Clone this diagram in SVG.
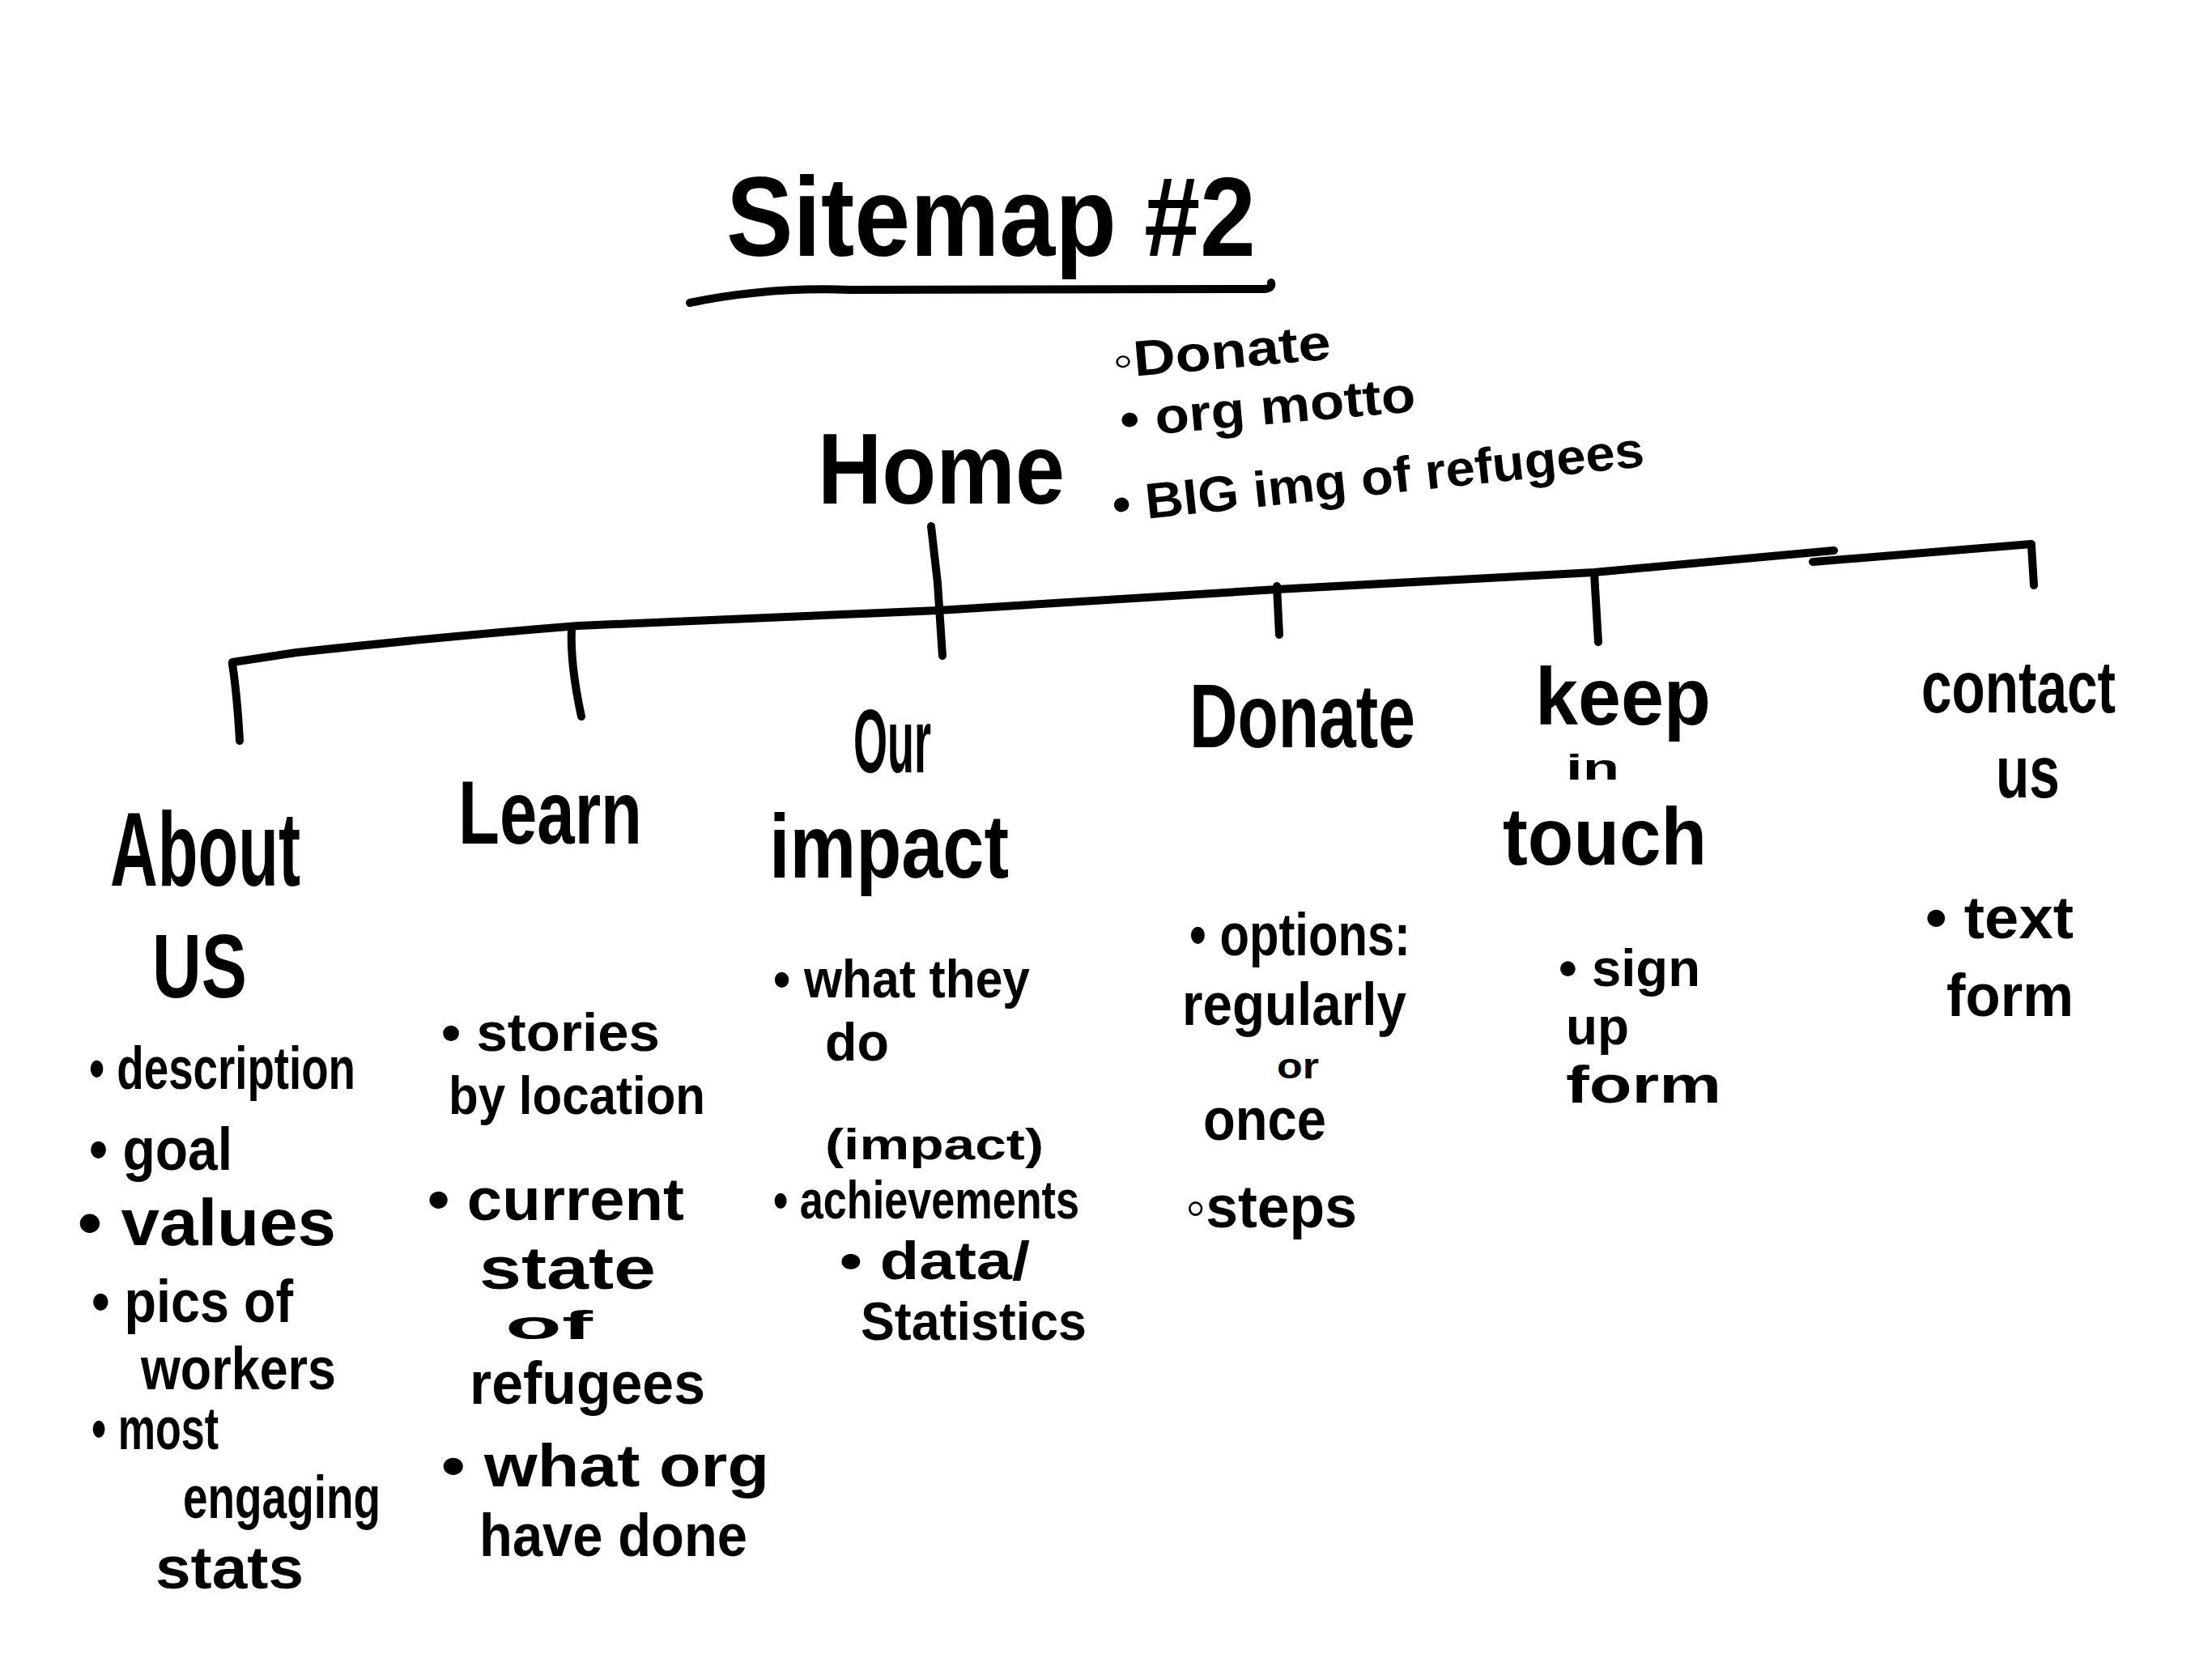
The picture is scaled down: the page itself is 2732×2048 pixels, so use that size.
<svg xmlns="http://www.w3.org/2000/svg" width="2732" height="2048" viewBox="0 0 2732 2048">
<style>
text{font-family:"Liberation Sans","DejaVu Sans",sans-serif;fill:#000;font-weight:700}
.t{font-size:140px}
.h{font-size:125px}
.n{font-size:112px}
.b{font-size:74px}
.m{font-size:66px}
.s{font-size:62px}
.l{fill:none;stroke:#000;stroke-width:10;stroke-linecap:round;stroke-linejoin:round}
</style>
<rect width="2732" height="2048" fill="#fff"/>
<g id="title">
<text class="t" x="897" y="316" textLength="654" lengthAdjust="spacingAndGlyphs">Sitemap #2</text>
<path class="l" d="M852 374 Q950 354 1050 358 L1562 357 Q1572 356 1570 349"/>
</g>
<g id="home">
<text class="h" x="1010" y="622" textLength="305" lengthAdjust="spacingAndGlyphs">Home</text>
<g transform="rotate(-5 1376 467)">
<text class="s" x="1376" y="467" textLength="270" lengthAdjust="spacingAndGlyphs">◦Donate</text>
</g>
<g transform="rotate(-5 1385 540)">
<text class="s" x="1385" y="540" textLength="366" lengthAdjust="spacingAndGlyphs">• org motto</text>
</g>
<g transform="rotate(-6 1376 645)">
<text class="s" x="1376" y="645" textLength="660" lengthAdjust="spacingAndGlyphs">• BIG img of refugees</text>
</g>
</g>
<g id="connectors">
<path class="l" d="M1150 650 L1158 720 L1164 810"/>
<path class="l" d="M287 818 L366 806 Q550 786 714 773 L1159 754 L1577 728 L1969 707 L2265 680"/>
<path class="l" d="M2239 694 L2509 672"/>
<path class="l" d="M287 820 Q293 860 296 915"/>
<path class="l" d="M706 776 Q704 820 718 885"/>
<path class="l" d="M1577 724 L1580 784"/>
<path class="l" d="M1969 708 L1974 793"/>
<path class="l" d="M2509 674 L2512 723"/>
</g>
<g id="about-us">
<text class="n" x="136" y="1094" textLength="235" lengthAdjust="spacingAndGlyphs" style="font-size:130px">About</text>
<text class="n" x="188" y="1232" textLength="117" lengthAdjust="spacingAndGlyphs">US</text>
<text class="b" x="110" y="1345" textLength="329" lengthAdjust="spacingAndGlyphs">• description</text>
<text class="b" x="110" y="1445" textLength="177" lengthAdjust="spacingAndGlyphs">• goal</text>
<text class="b" x="96" y="1538" textLength="319" lengthAdjust="spacingAndGlyphs" style="font-size:82px">• values</text>
<text class="b" x="113" y="1633" textLength="249" lengthAdjust="spacingAndGlyphs">• pics of</text>
<text class="b" x="174" y="1716" textLength="241" lengthAdjust="spacingAndGlyphs">workers</text>
<text class="b" x="113" y="1790" textLength="157" lengthAdjust="spacingAndGlyphs">• most</text>
<text class="b" x="226" y="1875" textLength="244" lengthAdjust="spacingAndGlyphs">engaging</text>
<text class="b" x="192" y="1962" textLength="183" lengthAdjust="spacingAndGlyphs">stats</text>
</g>
<g id="learn">
<text class="n" x="566" y="1042" textLength="227" lengthAdjust="spacingAndGlyphs">Learn</text>
<text class="m" x="545" y="1298" textLength="270" lengthAdjust="spacingAndGlyphs">• stories</text>
<text class="m" x="554" y="1376" textLength="317" lengthAdjust="spacingAndGlyphs">by location</text>
<text class="b" x="528" y="1507" textLength="317" lengthAdjust="spacingAndGlyphs">• current</text>
<text class="b" x="592" y="1592" textLength="218" lengthAdjust="spacingAndGlyphs">state</text>
<text class="s" x="624" y="1654" textLength="108" lengthAdjust="spacingAndGlyphs" style="font-size:50px">of</text>
<text class="b" x="580" y="1734" textLength="291" lengthAdjust="spacingAndGlyphs">refugees</text>
<text class="b" x="545" y="1836" textLength="405" lengthAdjust="spacingAndGlyphs">• what org</text>
<text class="b" x="592" y="1922" textLength="331" lengthAdjust="spacingAndGlyphs">have done</text>
</g>
<g id="our-impact">
<text class="n" x="1054" y="954" textLength="96" lengthAdjust="spacingAndGlyphs">Our</text>
<text class="n" x="950" y="1084" textLength="296" lengthAdjust="spacingAndGlyphs">impact</text>
<text class="m" x="955" y="1232" textLength="317" lengthAdjust="spacingAndGlyphs">• what they</text>
<text class="m" x="1019" y="1310" textLength="79" lengthAdjust="spacingAndGlyphs">do</text>
<text class="s" x="1019" y="1432" textLength="270" lengthAdjust="spacingAndGlyphs" style="font-size:54px">(impact)</text>
<text class="m" x="955" y="1505" textLength="378" lengthAdjust="spacingAndGlyphs">• achievements</text>
<text class="m" x="1037" y="1580" textLength="235" lengthAdjust="spacingAndGlyphs">• data/</text>
<text class="m" x="1063" y="1655" textLength="279" lengthAdjust="spacingAndGlyphs">Statistics</text>
</g>
<g id="donate">
<text class="n" x="1469" y="923" textLength="279" lengthAdjust="spacingAndGlyphs">Donate</text>
<text class="b" x="1469" y="1180" textLength="273" lengthAdjust="spacingAndGlyphs">• options:</text>
<text class="b" x="1460" y="1266" textLength="277" lengthAdjust="spacingAndGlyphs">regularly</text>
<text class="s" x="1577" y="1332" textLength="52" lengthAdjust="spacingAndGlyphs" style="font-size:44px">or</text>
<text class="b" x="1486" y="1408" textLength="152" lengthAdjust="spacingAndGlyphs">once</text>
<text class="b" x="1464" y="1516" textLength="212" lengthAdjust="spacingAndGlyphs">◦steps</text>
</g>
<g id="keep-in-touch">
<text class="n" x="1896" y="895" textLength="217" lengthAdjust="spacingAndGlyphs" style="font-size:100px">keep</text>
<text class="s" x="1934" y="963" textLength="66" lengthAdjust="spacingAndGlyphs" style="font-size:44px">in</text>
<text class="n" x="1856" y="1068" textLength="252" lengthAdjust="spacingAndGlyphs" style="font-size:100px">touch</text>
<text class="b" x="1925" y="1218" textLength="175" lengthAdjust="spacingAndGlyphs" style="font-size:64px">• sign</text>
<text class="b" x="1934" y="1290" textLength="78" lengthAdjust="spacingAndGlyphs" style="font-size:64px">up</text>
<text class="b" x="1934" y="1362" textLength="192" lengthAdjust="spacingAndGlyphs" style="font-size:64px">form</text>
</g>
<g id="contact-us">
<text class="n" x="2373" y="880" textLength="240" lengthAdjust="spacingAndGlyphs" style="font-size:90px">contact</text>
<text class="n" x="2465" y="985" textLength="79" lengthAdjust="spacingAndGlyphs" style="font-size:90px">us</text>
<text class="b" x="2378" y="1159" textLength="183" lengthAdjust="spacingAndGlyphs">• text</text>
<text class="b" x="2404" y="1255" textLength="157" lengthAdjust="spacingAndGlyphs">form</text>
</g>
</svg>
